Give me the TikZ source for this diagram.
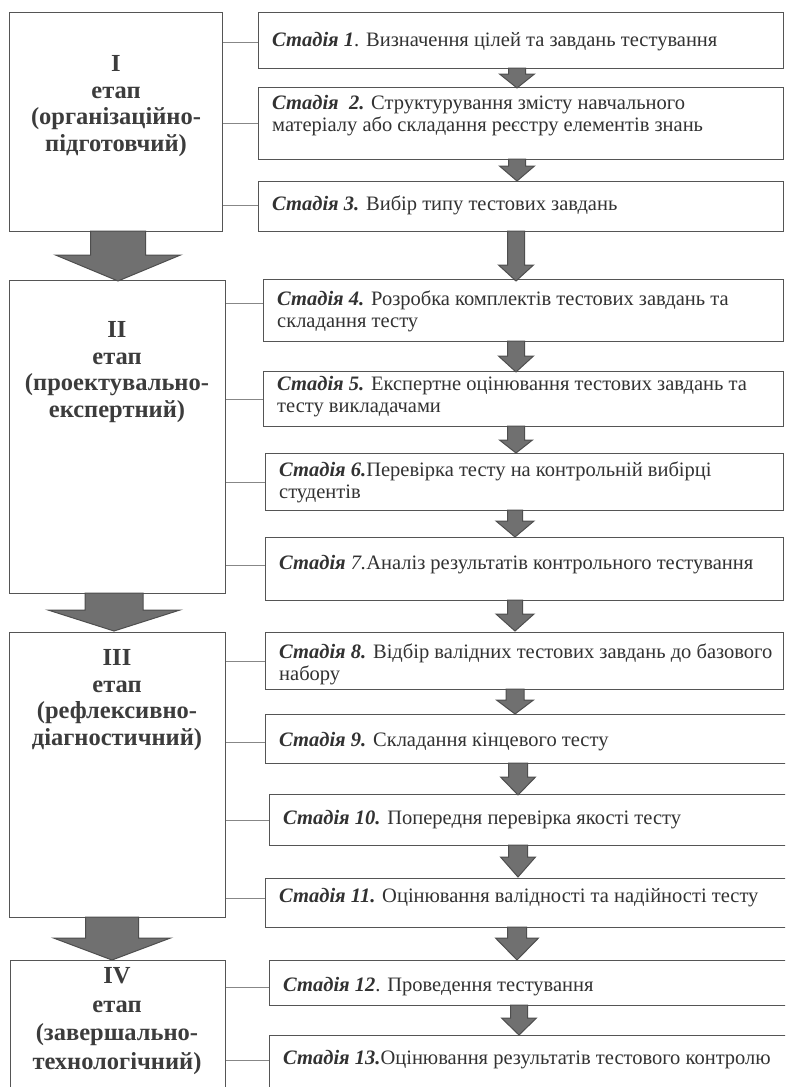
\documentclass[tikz,border=0pt]{standalone}
\usepackage{fontspec}
\setmainfont{Liberation Serif}
\definecolor{boxline}{RGB}{85,85,85}
\definecolor{connline}{RGB}{135,135,135}
\definecolor{arrfill}{RGB}{112,112,112}
\definecolor{arrline}{RGB}{78,78,78}
\definecolor{txt}{RGB}{50,50,50}
\definecolor{htxt}{RGB}{60,60,60}
\newcommand\dnarrow[6]{\draw[arr] ({#1-#4/2},#2) -- ({#1+#4/2},#2) -- ({#1+#4/2},{#3-#6}) -- ({#1+#5/2},{#3-#6}) -- (#1,#3) -- ({#1-#5/2},{#3-#6}) -- ({#1-#4/2},{#3-#6}) -- cycle;}
\newcommand\st[1]{\textbf{\textit{#1}}}
\begin{document}
\begin{tikzpicture}[x=1pt,y=-1pt,
  box/.style={draw=boxline, line width=1.4pt, fill=white, anchor=north west, inner sep=0pt},
  conn/.style={draw=connline, line width=1pt},
  arr/.style={fill=arrfill, draw=arrline, line width=1pt, line join=miter},
  stext/.style={anchor=west, align=left, font=\fontsize{20.5}{22}\selectfont, text=txt, inner sep=0pt},
  htext/.style={align=center, font=\bfseries\fontsize{24.5}{26.5}\selectfont, text=htxt, inner sep=0pt, anchor=center}]
\useasboundingbox[fill=white] (0,0) rectangle (785,1087);
\clip (0,0) rectangle (785,1087);
% stage (left) boxes
\node[box, minimum width=213pt, minimum height=219pt] (L1) at (9,12) {};
\node[box, minimum width=216pt, minimum height=313pt] (L2) at (9,280) {};
\node[box, minimum width=216pt, minimum height=285pt] (L3) at (9,632) {};
\node[box, minimum width=215pt, minimum height=170pt] (L4) at (10,960) {};
% stadia (right) boxes
\node[box, minimum width=525pt, minimum height=56pt] (S1) at (258,12) {};
\node[box, minimum width=525pt, minimum height=72pt] (S2) at (258,87) {};
\node[box, minimum width=525pt, minimum height=50pt] (S3) at (258,181) {};
\node[box, minimum width=520pt, minimum height=62pt] (S4) at (263,279) {};
\node[box, minimum width=520pt, minimum height=55pt] (S5) at (263,371) {};
\node[box, minimum width=518pt, minimum height=57pt] (S6) at (265,453) {};
\node[box, minimum width=518pt, minimum height=63pt] (S7) at (265,537) {};
\node[box, minimum width=518pt, minimum height=57pt] (S8) at (265,632) {};
\node[box, minimum width=530pt, minimum height=49pt] (S9) at (265,714) {};
\node[box, minimum width=526pt, minimum height=51pt] (S10) at (269,794) {};
\node[box, minimum width=530pt, minimum height=49pt] (S11) at (265,878) {};
\node[box, minimum width=526pt, minimum height=45pt] (S12) at (269,960) {};
\node[box, minimum width=526pt, minimum height=90pt] (S13) at (269,1035) {};
% headings
\node[htext] (H1) at (116,106) {I\\етап\\(організаційно-\\підготовчий)};
\node[htext] (H2) at (117,372) {II\\етап\\(проектувально-\\експертний)};
\node[htext] (H3) at (117,700) {III\\етап\\(рефлексивно-\\діагностичний)};
\node[htext, font=\bfseries\fontsize{24.5}{28.5}\selectfont] (H4) at (117,1021) {IV\\етап\\(завершально-\\технологічний)};
% stadia texts
\node[stext] (T1) at (272,42) {\st{Стадія 1}. Визначення цілей та завдань тестування};
\node[stext] (T2) at (272,116) {\st{Стадія~ 2.} Структурування змісту навчального\\матеріалу або складання реєстру елементів знань};
\node[stext] (T3) at (272,205) {\st{Стадія 3.} Вибір типу тестових завдань};
\node[stext] (T4) at (277,311) {\st{Стадія 4.} Розробка комплектів тестових завдань та\\складання тесту};
\node[stext] (T5) at (277,397) {\st{Стадія 5.} Експертне оцінювання тестових завдань та\\тесту викладачами};
\node[stext] (T6) at (279,482) {\st{Стадія 6.}Перевірка тесту на контрольній вибірці\\студентів};
\node[stext] (T7) at (279,565) {\st{Стадія} \textit{7.}Аналіз результатів контрольного тестування};
\node[stext] (T8) at (279,664) {\st{Стадія 8.} Відбір валідних тестових завдань до базового\\набору};
\node[stext] (T9) at (279,742) {\st{Стадія 9.} Складання кінцевого тесту};
\node[stext] (T10) at (283,820) {\st{Стадія 10.} Попередня перевірка якості тесту};
\node[stext] (T11) at (279,898) {\st{Стадія 11.} Оцінювання валідності та надійності тесту};
\node[stext] (T12) at (283,987) {\st{Стадія 12}. Проведення тестування};
\node[stext] (T13) at (283,1060) {\st{Стадія 13.}Оцінювання результатів тестового контролю};
% connectors
\draw[conn] (L1.east |- T1) -- (S1.west |- T1);
\draw[conn] (L1.east |- S2.west) -- (S2.west);
\draw[conn] (L1.east |- T3) -- (S3.west |- T3);
\draw[conn] (L2.east |- 0,303) -- (S4.west |- 0,303);
\draw[conn] (L2.east |- 0,399) -- (S5.west |- 0,399);
\draw[conn] (L2.east |- 0,482) -- (S6.west |- 0,482);
\draw[conn] (L2.east |- 0,565) -- (S7.west |- 0,565);
\draw[conn] (L3.east |- 0,661) -- (S8.west |- 0,661);
\draw[conn] (L3.east |- 0,742) -- (S9.west |- 0,742);
\draw[conn] (L3.east |- 0,820) -- (S10.west |- 0,820);
\draw[conn] (L3.east |- 0,898) -- (S11.west |- 0,898);
\draw[conn] (L4.east |- 0,987) -- (S12.west |- 0,987);
\draw[conn] (L4.east |- 0,1060) -- (S13.west |- 0,1060);
% small arrows between stadia
\dnarrow{517}{68}{88}{17}{35}{14}
\dnarrow{517}{159}{181}{17}{35}{15}
\dnarrow{516}{231}{281}{17}{35}{16}
\dnarrow{516}{341}{372}{17}{35}{16}
\dnarrow{516}{426}{453}{17}{33}{13}
\dnarrow{515}{510}{537}{15}{38}{16}
\dnarrow{515}{600}{631}{15}{38}{17}
\dnarrow{515}{689}{714}{18}{37}{14}
\dnarrow{518}{763}{795}{19}{35}{18}
\dnarrow{518}{845}{877}{19}{35}{20}
\dnarrow{517}{927}{960}{19}{43}{22}
\dnarrow{519}{1005}{1035}{17}{35}{17}
% big arrows between stages
\dnarrow{118}{231}{281}{55}{125}{26}
\dnarrow{114}{593}{631}{58}{132}{21}
\dnarrow{112}{917}{960}{53}{117}{22}
\end{tikzpicture}
\end{document}
